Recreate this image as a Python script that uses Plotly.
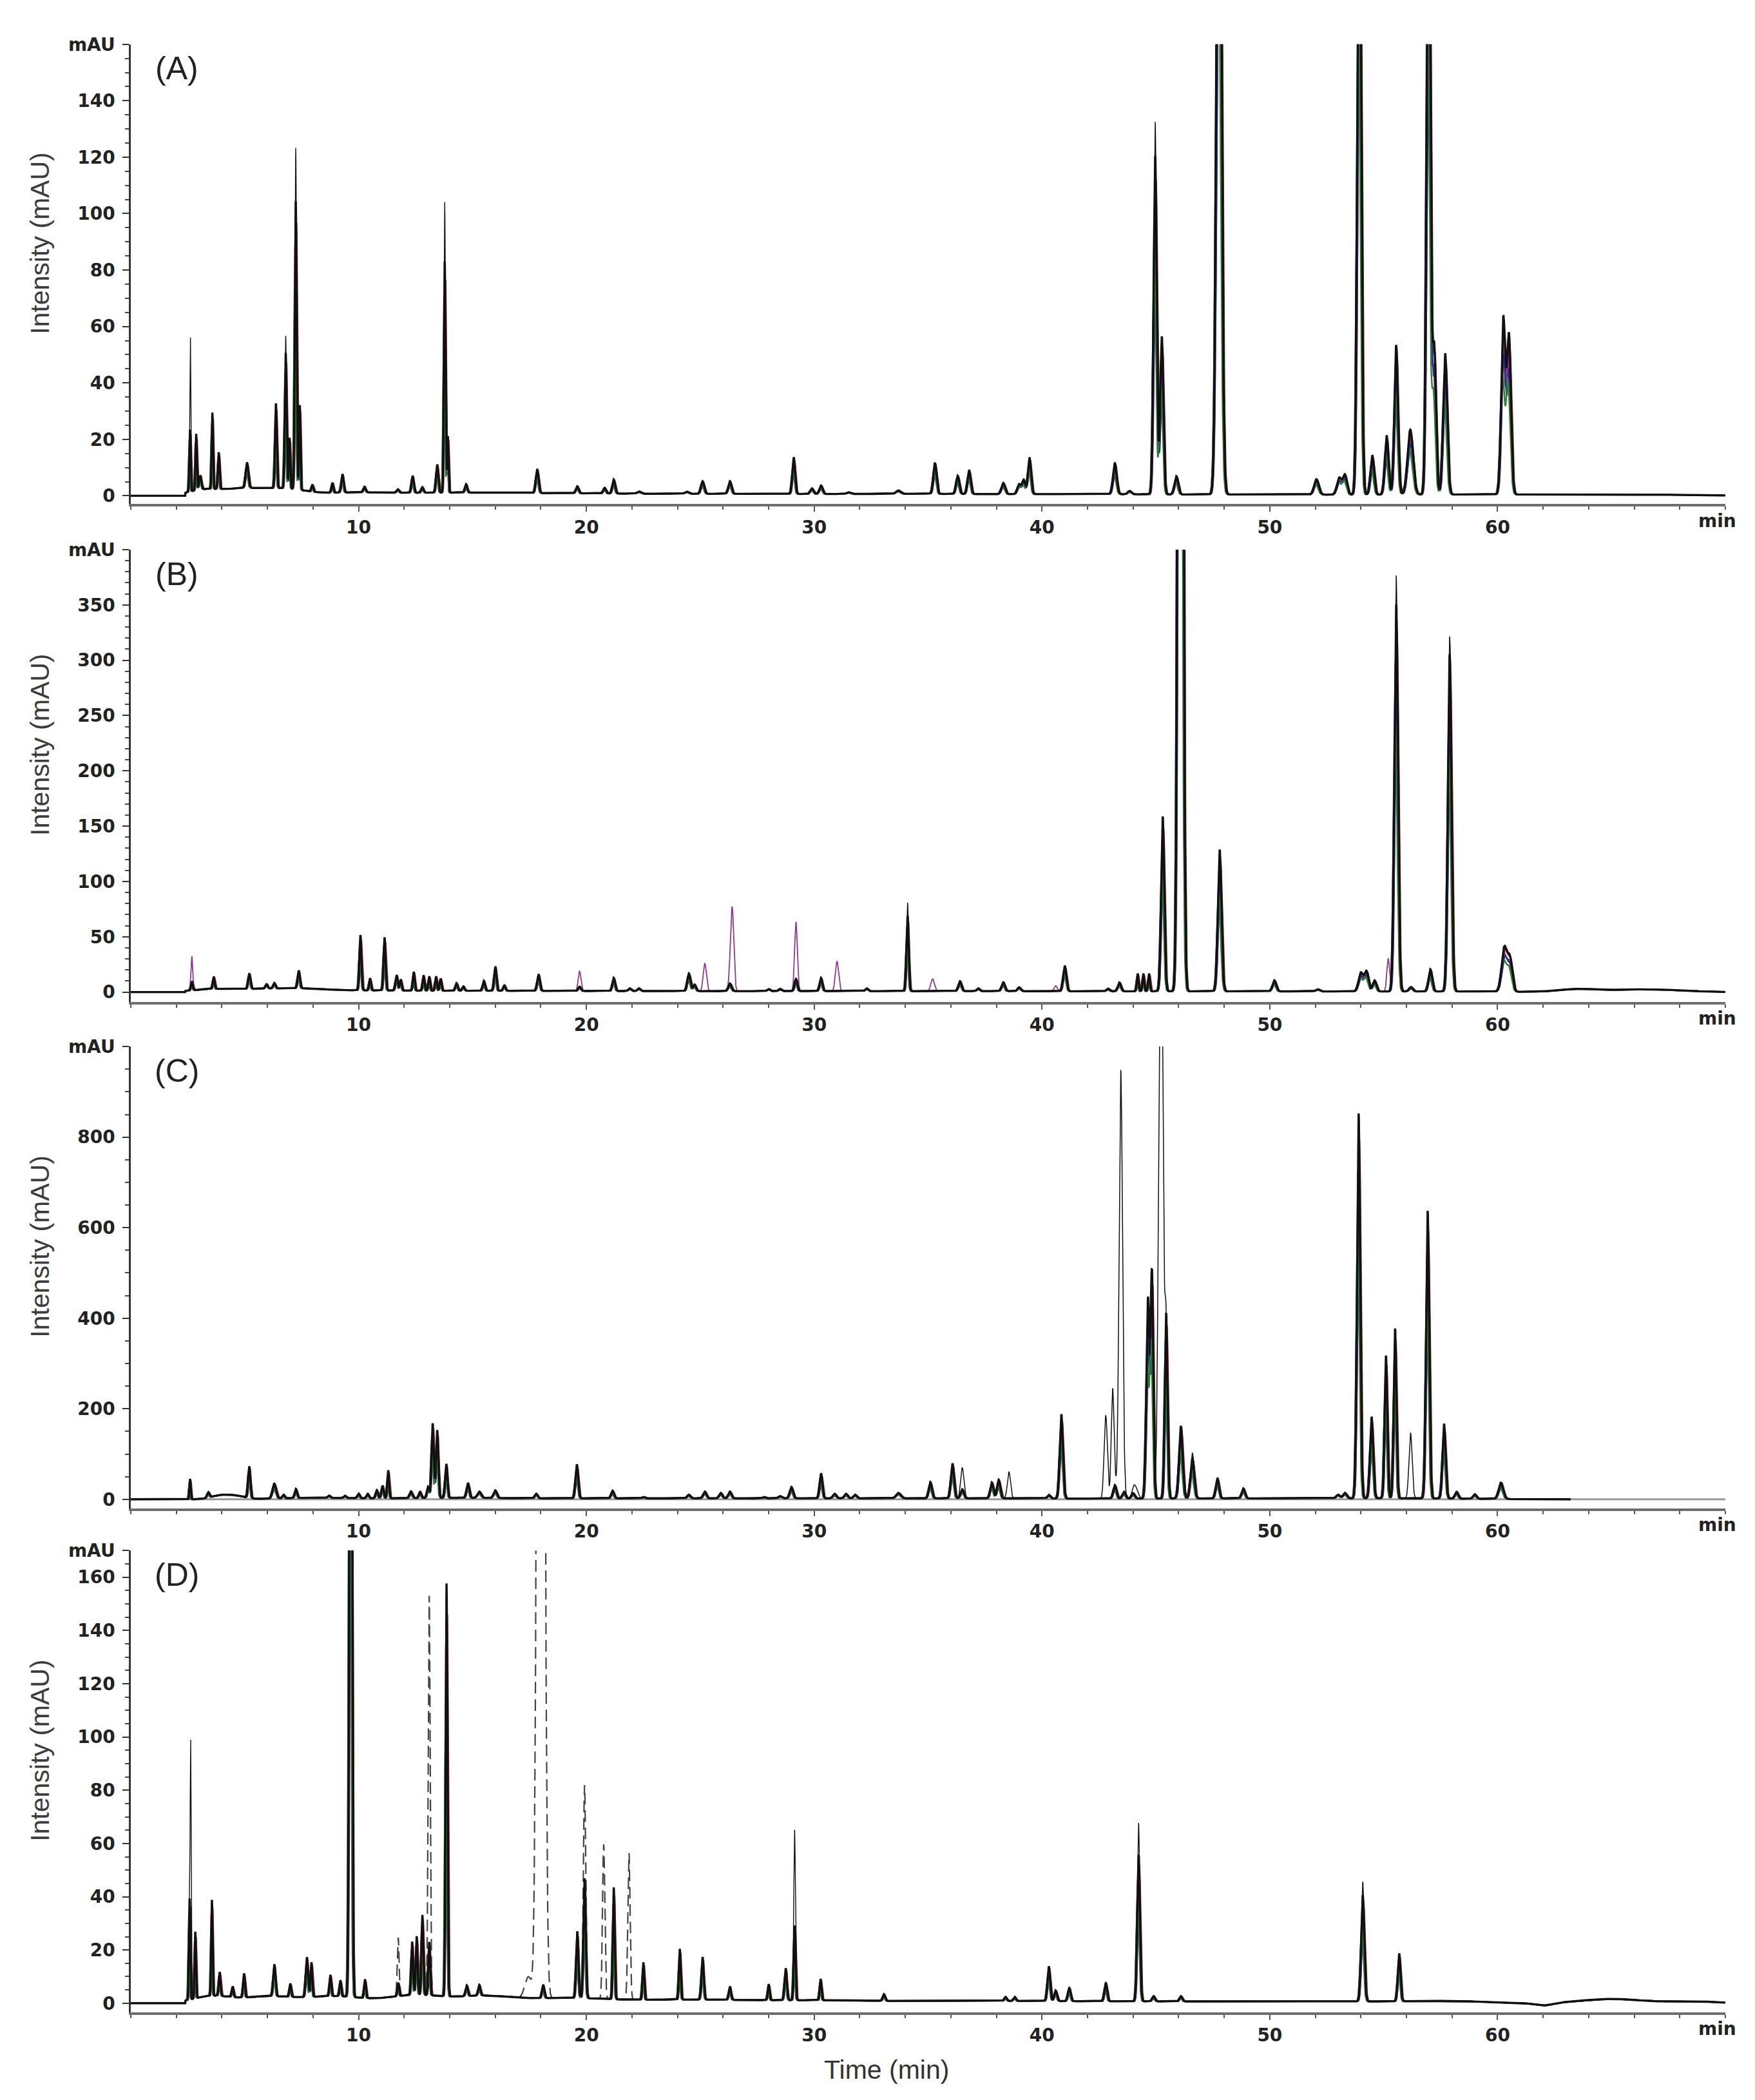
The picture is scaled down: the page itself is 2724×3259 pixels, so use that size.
import numpy as np
import plotly.graph_objects as go

# ---------------- DATA ----------------
# Panel A : main peak table (retention time, height mAU, sigma min)
A_rt = [2.60, 2.87, 3.05, 3.58, 3.86, 5.10, 6.37, 6.80, 6.97, 7.24,
        7.42, 7.97, 8.85, 9.29, 10.26, 11.72, 12.37, 12.80, 13.45, 13.78,
        13.92, 14.72, 17.84, 19.60, 20.80, 21.20, 22.30, 24.40, 25.10, 26.30,
        29.10, 29.90, 30.30, 31.50, 33.70, 35.30, 36.30, 36.80, 38.30, 39.00,
        39.20, 39.45, 43.20, 43.85, 44.97, 45.26, 45.90, 47.77, 52.05, 53.05,
        53.30, 53.93, 54.50, 55.13, 55.55, 56.17, 56.97, 57.22, 57.70, 60.25,
        60.50]
A_h = [22, 20, 5, 27, 13, 9, 30, 48, 18, 102,
       30, 2.5, 3.5, 6.5, 2, 1.2, 6, 2, 10, 82,
       20, 3, 8.5, 2.5, 2, 5, 0.8, 0.8, 4.5, 4.5,
       13, 2, 3, 0.6, 1.2, 11, 6.5, 8.5, 4, 3.5,
       5, 13, 11, 1.2, 120, 56, 6.5, 320, 5.5, 6,
       7, 250, 14, 21, 53, 23, 250, 52, 50, 62,
       56]
A_w = [0.03, 0.03, 0.05, 0.03, 0.035, 0.06, 0.04, 0.04, 0.03, 0.04,
       0.03, 0.04, 0.04, 0.05, 0.05, 0.05, 0.05, 0.05, 0.05, 0.035,
       0.03, 0.05, 0.06, 0.06, 0.06, 0.06, 0.08, 0.08, 0.07, 0.07,
       0.06, 0.07, 0.07, 0.08, 0.10, 0.07, 0.07, 0.07, 0.08, 0.08,
       0.07, 0.07, 0.08, 0.08, 0.07, 0.07, 0.08, 0.10, 0.10, 0.10,
       0.09, 0.08, 0.08, 0.08, 0.08, 0.12, 0.08, 0.08, 0.09, 0.09,
       0.09]
A_base_rt = [3.2, 5.0, 6.8, 9.5, 14, 19, 26, 34, 42, 50, 58, 65]
A_base_h = [2.0, 2.5, 2.0, 1.0, 0.9, 0.7, 0.6, 0.6, 0.5, 0.4, 0.4, 0.5]
A_base_w = [0.7, 0.9, 0.8, 1.8, 2.5, 3.0, 3.5, 3.5, 3.5, 3.5, 3.0, 3.0]
A_tip_rt = [2.62, 6.80, 7.24, 13.78, 44.97]
A_tip_h = [37, 6, 19, 21, 12]
A_tip_w = [0.015, 0.03, 0.03, 0.025, 0.05]

# Panel B
B_rt = [2.68, 3.64, 5.20, 5.96, 6.30, 7.37, 10.08, 10.50, 11.14, 11.67,
        11.85, 12.42, 12.85, 13.10, 13.40, 13.60, 14.30, 14.60, 15.50, 16.00,
        16.40, 17.90, 19.70, 21.20, 21.90, 22.30, 24.50, 24.75, 26.30, 28.00,
        28.50, 29.20, 30.30, 32.30, 34.10, 36.40, 37.20, 38.30, 39.00, 41.00,
        42.90, 43.40, 44.20, 44.45, 44.70, 45.30, 46.08, 47.80, 50.20, 52.10,
        54.00, 54.25, 54.60, 55.55, 56.20, 57.05, 57.90, 60.30, 60.55]
B_h = [8, 11, 14, 4, 5, 16, 50, 11, 48, 14,
       10, 17, 14, 13, 13, 11, 7, 4, 9, 22,
       5, 15, 4, 12, 2.5, 2.5, 16, 6, 7, 2,
       2, 11, 12, 2.5, 68, 9, 2.5, 8, 3.5, 23,
       2.5, 8, 16, 16, 16, 158, 2000, 128, 10, 2,
       17, 18, 10, 350, 4, 20, 305, 40, 28]
B_w = [0.04, 0.04, 0.05, 0.05, 0.05, 0.05, 0.045, 0.04, 0.045, 0.05,
       0.04, 0.04, 0.04, 0.04, 0.04, 0.04, 0.05, 0.05, 0.05, 0.05,
       0.05, 0.06, 0.06, 0.06, 0.06, 0.06, 0.07, 0.06, 0.07, 0.06,
       0.06, 0.06, 0.06, 0.06, 0.05, 0.07, 0.06, 0.07, 0.07, 0.07,
       0.07, 0.07, 0.04, 0.04, 0.04, 0.07, 0.085, 0.08, 0.08, 0.08,
       0.10, 0.09, 0.08, 0.08, 0.08, 0.08, 0.08, 0.12, 0.10]
B_base_rt = [3.5, 5.5, 7.5, 10, 15, 22, 30, 38, 46, 52, 58, 63.5, 66.5]
B_base_h = [2.5, 2.5, 2.5, 1.2, 1.0, 0.8, 0.8, 0.8, 0.6, 0.5, 0.5, 2.5, 2.5]
B_base_w = [0.8, 1.0, 1.0, 2.0, 3.0, 3.5, 3.5, 3.5, 3.0, 3.0, 2.5, 0.8, 1.5]
B_tip_rt = [34.10, 55.55, 57.90]
B_tip_h = [12, 26, 16]
B_tip_w = [0.04, 0.06, 0.06]
B_purple_rt = [2.68, 19.70, 25.20, 26.40, 29.20, 31.00, 35.20, 40.60, 55.20]
B_purple_h = [23, 14, 25, 74, 52, 27, 11, 5, 30]
B_purple_w = [0.04, 0.06, 0.07, 0.07, 0.06, 0.07, 0.08, 0.07, 0.06]

# Panel C
C_rt = [2.60, 3.40, 5.20, 6.30, 6.70, 7.25, 8.70, 9.40, 10.00, 10.40,
        10.80, 11.05, 11.30, 12.30, 12.70, 13.05, 13.25, 13.45, 13.85, 14.80,
        15.30, 16.00, 17.80, 19.58, 21.15, 22.50, 24.50, 25.20, 25.90, 26.30,
        27.80, 28.50, 29.00, 30.30, 30.90, 31.40, 31.80, 33.70, 35.10, 36.07,
        36.50, 37.80, 38.10, 40.30, 40.85, 43.20, 43.60, 44.00, 44.65, 44.83,
        45.45, 46.10, 46.60, 47.70, 48.84, 53.00, 53.30, 53.90, 54.47, 55.10,
        55.50, 56.93, 57.65, 58.20, 59.00, 60.15]
C_h = [45, 12, 70, 33, 8, 20, 5, 5, 10, 10,
       18, 28, 62, 15, 14, 25, 165, 150, 75, 33,
       14, 17, 10, 75, 17, 3, 8, 15, 12, 15,
       3, 5, 25, 55, 10, 10, 8, 12, 36, 77,
       20, 35, 41, 8, 186, 30, 15, 12, 440, 490,
       410, 160, 90, 45, 22, 8, 12, 850, 180, 315,
       375, 635, 165, 15, 10, 36]
C_w = [0.03, 0.05, 0.05, 0.08, 0.05, 0.05, 0.05, 0.05, 0.05, 0.05,
       0.05, 0.05, 0.04, 0.06, 0.05, 0.05, 0.05, 0.05, 0.05, 0.06,
       0.08, 0.07, 0.06, 0.06, 0.06, 0.06, 0.07, 0.07, 0.07, 0.07,
       0.06, 0.07, 0.07, 0.06, 0.07, 0.07, 0.07, 0.10, 0.07, 0.07,
       0.07, 0.07, 0.07, 0.06, 0.07, 0.07, 0.07, 0.07, 0.07, 0.06,
       0.06, 0.08, 0.08, 0.07, 0.07, 0.08, 0.08, 0.07, 0.07, 0.06,
       0.06, 0.07, 0.07, 0.07, 0.07, 0.10]
C_base_rt = [3.9, 4.6, 8, 14, 22, 30, 38, 48, 56]
C_base_h = [8, 7, 3, 3, 2, 2, 2, 2, 2]
C_base_w = [0.4, 0.4, 1.5, 3.0, 3.5, 3.5, 3.5, 4.0, 3.0]
C_alt_rt = [13.35, 36.50, 38.55, 42.80, 43.10, 43.46, 44.10, 45.22, 46.60, 56.18]
C_alt_h = [20, 50, 59, 184, 234, 945, 25, 1400, 20, 145]
C_alt_w = [0.05, 0.07, 0.07, 0.07, 0.06, 0.075, 0.10, 0.09, 0.08, 0.07]

# Panel D
D_rt = [2.58, 2.83, 3.56, 3.90, 4.47, 4.97, 6.30, 7.00, 7.73, 7.93,
        8.76, 9.20, 9.65, 10.28, 11.74, 12.35, 12.55, 12.80, 13.10, 13.86,
        14.75, 15.30, 18.10, 19.60, 19.92, 21.20, 22.50, 24.10, 25.10, 26.30,
        28.00, 28.75, 29.14, 30.28, 33.06, 38.40, 38.80, 40.30, 40.60, 41.20,
        42.80, 44.24, 44.90, 46.10, 54.08, 55.68]
D_h = [38, 25, 36, 9, 4, 9, 12, 5, 15, 13,
       8, 6, 400, 7, 5, 20, 22, 30, 20, 155,
       4, 4, 5, 25, 45, 42, 14, 19, 16, 5,
       6, 12, 28, 8, 2.5, 1.5, 1.5, 13, 4, 5,
       7, 55, 2, 2, 40, 18]
D_w = [0.03, 0.03, 0.03, 0.04, 0.04, 0.04, 0.05, 0.04, 0.05, 0.04,
       0.04, 0.04, 0.05, 0.04, 0.04, 0.04, 0.04, 0.04, 0.04, 0.04,
       0.05, 0.05, 0.05, 0.05, 0.05, 0.04, 0.04, 0.04, 0.05, 0.05,
       0.04, 0.05, 0.04, 0.04, 0.05, 0.05, 0.05, 0.06, 0.06, 0.06,
       0.06, 0.06, 0.06, 0.06, 0.07, 0.06]
D_base_rt = [3.5, 6, 9, 12.5, 15.5, 19, 24, 30, 38, 46, 54, 58, 62, 65, 68.5]
D_base_h = [2.5, 2.5, 2.5, 3.0, 2.5, 1.8, 1.2, 1.0, 0.8, 0.6, 0.6, 0.6, -1.0, 1.6, 0.7]
D_base_w = [0.8, 1.2, 1.2, 1.2, 1.2, 1.8, 2.5, 3.0, 3.5, 3.5, 3.0, 1.5, 0.4, 1.3, 1.0]
D_tip_rt = [2.63, 29.14, 44.24, 54.08]
D_tip_h = [88, 36, 12, 5]
D_tip_w = [0.02, 0.035, 0.05, 0.06]
D_dash_rt = [11.74, 13.10, 17.45, 18.00, 19.92, 20.76, 21.87]
D_dash_h = [17, 130, 8, 800, 35, 58, 55]
D_dash_w = [0.04, 0.045, 0.15, 0.12, 0.05, 0.05, 0.05]

# Replicate runs (relative height factor, retention shift in min)
REP_SCALE = [0.93, 0.85, 0.78, 0.70]
REP_SHIFT = [0.035, -0.03, 0.02, -0.04]
REP_COLORS = ["#b11d35", "#8e2c8e", "#22308f", "#2f7d32"]

# Axis ticks
Y_TICKS = {
    "A": ([0, 20, 40, 60, 80, 100, 120, 140, 160], ["0", "20", "40", "60", "80", "100", "120", "140", "mAU"]),
    "B": ([0, 50, 100, 150, 200, 250, 300, 350, 400], ["0", "50", "100", "150", "200", "250", "300", "350", "mAU"]),
    "C": ([0, 200, 400, 600, 800, 1000], ["0", "200", "400", "600", "800", "mAU"]),
    "D": ([0, 20, 40, 60, 80, 100, 120, 140, 160, 170], ["0", "20", "40", "60", "80", "100", "120", "140", "160", "mAU"]),
}
X_TICKS = [10, 20, 30, 40, 50, 60]
RUN_START = 2.4

# ---------------- BUILD ----------------
t = np.round(np.arange(0, 70.0 + 1e-9, 0.01), 2)


def gauss_sum(rt, h, w, scale=1.0, shift=0.0):
    y = np.zeros_like(t)
    for r, a, s in zip(rt, h, w):
        y += scale * a * np.exp(-0.5 * ((t - r - shift) / s) ** 2)
    return y


def chrom(rt, h, w, brt, bh, bw, scale=1.0, shift=0.0):
    y = gauss_sum(rt, h, w, scale, shift) + gauss_sum(brt, bh, bw)
    y[t < RUN_START] = 0.0
    return y


W, H = 2724, 3259
panels = {
    "A": dict(top=45, bottom=763, ylo=-2.95, minor=5),
    "B": dict(top=834, bottom=1540, ylo=-8.7, minor=10),
    "C": dict(top=1610, bottom=2331, ylo=-19.8, minor=50),
    "D": dict(top=2397, bottom=3118, ylo=-3.4, minor=5),
}
data = {
    "A": (A_rt, A_h, A_w, A_base_rt, A_base_h, A_base_w),
    "B": (B_rt, B_h, B_w, B_base_rt, B_base_h, B_base_w),
    "C": (C_rt, C_h, C_w, C_base_rt, C_base_h, C_base_w),
    "D": (D_rt, D_h, D_w, D_base_rt, D_base_h, D_base_w),
}
END = {"A": 70.0, "B": 70.0, "C": 63.2, "D": 70.0}

fig = go.Figure()
tick_font = dict(family="DejaVu Sans", size=28, color="#222222", weight="bold")

for i, key in enumerate(["A", "B", "C", "D"], start=1):
    xa = "x" if i == 1 else f"x{i}"
    ya = "y" if i == 1 else f"y{i}"
    rt, h, w, brt, bh, bw = data[key]
    mask = t <= END[key] + 1e-9
    tx = t[mask].astype(np.float32)

    def add(y, color, width, dash=None):
        fig.add_trace(go.Scatter(
            x=tx, y=y[mask].astype(np.float32), mode="lines",
            line=dict(color=color, width=width, dash=dash),
            xaxis=xa, yaxis=ya, showlegend=False, hoverinfo="skip"))

    main = chrom(rt, h, w, brt, bh, bw)

    # coloured replicate runs
    for sc, sh, col in zip(REP_SCALE, REP_SHIFT, REP_COLORS):
        add(chrom(rt, h, w, brt, bh, bw, sc, sh), col, 2.4)

    if key == "B":
        add(main * 0.97 + gauss_sum(B_purple_rt, B_purple_h, B_purple_w), "#8a3a8f", 1.8)
    if key == "C":
        add(main * 0.9 + gauss_sum(C_alt_rt, C_alt_h, C_alt_w), "#111111", 1.5)
    if key == "D":
        add(main + gauss_sum(D_dash_rt, D_dash_h, D_dash_w), "#444444", 2.2, "18px,9px")

    add(main, "#111111", 3.4)

    if key == "A":
        add(main + gauss_sum(A_tip_rt, A_tip_h, A_tip_w), "#111111", 1.4)
    if key == "B":
        add(main + gauss_sum(B_tip_rt, B_tip_h, B_tip_w), "#111111", 1.4)
    if key == "D":
        add(main + gauss_sum(D_tip_rt, D_tip_h, D_tip_w), "#111111", 1.4)

    p = panels[key]
    tv, tt = Y_TICKS[key]
    ytop = tv[-1]
    ydom = [1 - p["bottom"] / H, 1 - p["top"] / H]
    minor_vals = [v for v in np.arange(0, ytop + 1e-9, p["minor"]).tolist() if v not in tv]

    fig.update_layout({
        ("xaxis" if i == 1 else f"xaxis{i}"): dict(
            domain=[195 / W, 2670 / W], range=[0, 70], anchor=ya,
            showline=True, linecolor="#6e6e6e", linewidth=4, mirror=False,
            ticks="outside", ticklen=8, tickwidth=2, tickcolor="#555555",
            tickmode="array", tickvals=X_TICKS, ticktext=[str(v) for v in X_TICKS],
            tickfont=tick_font, showgrid=False, zeroline=False,
            minor=dict(tickmode="linear", tick0=0, dtick=2, ticks="outside",
                       ticklen=5, tickwidth=2, tickcolor="#555555", showgrid=False),
        ),
        ("yaxis" if i == 1 else f"yaxis{i}"): dict(
            domain=ydom, range=[p["ylo"], ytop], anchor=xa,
            showline=True, linecolor="#333333", linewidth=2.5,
            ticks="outside", ticklen=10, tickwidth=2, tickcolor="#333333",
            tickmode="array", tickvals=tv, ticktext=tt, tickfont=tick_font,
            ticklabelstandoff=6, showgrid=False, zeroline=False,
            minor=dict(tickmode="array", tickvals=minor_vals, ticks="outside",
                       ticklen=6, tickwidth=1.5, tickcolor="#444444", showgrid=False),
        ),
    })

    # panel label, axis title, "min"
    fig.add_annotation(x=266 / W, y=1 - (p["top"] + 38) / H, xref="paper", yref="paper",
                       text=f"({key})", showarrow=False, xanchor="center", yanchor="middle",
                       font=dict(family="Liberation Sans", size=50, color="#222222"))
    fig.add_annotation(x=54 / W, y=1 - ((p["top"] + p["bottom"]) / 2 - 48) / H,
                       xref="paper", yref="paper", text="Intensity (mAU)", textangle=-90,
                       showarrow=False, xanchor="center", yanchor="middle",
                       font=dict(family="Liberation Sans", size=41, color="#3c3c3c"))
    fig.add_annotation(x=2657 / W, y=1 - (p["bottom"] + 26) / H, xref="paper", yref="paper",
                       text="min", showarrow=False, xanchor="center", yanchor="middle",
                       font=tick_font)

    if key == "C":
        fig.add_shape(type="line", xref=xa, yref=ya, x0=0, x1=70, y0=0, y1=0,
                      line=dict(color="#9a9a9a", width=3), layer="below")

fig.add_annotation(x=1368 / W, y=1 - 3208 / H, xref="paper", yref="paper",
                   text="Time (min)", showarrow=False, xanchor="center", yanchor="middle",
                   font=dict(family="Liberation Sans", size=41, color="#333333"))

fig.update_layout(width=W, height=H, margin=dict(l=0, r=0, t=0, b=0),
                  paper_bgcolor="white", plot_bgcolor="white", showlegend=False)

fig.write_html("out.html")
